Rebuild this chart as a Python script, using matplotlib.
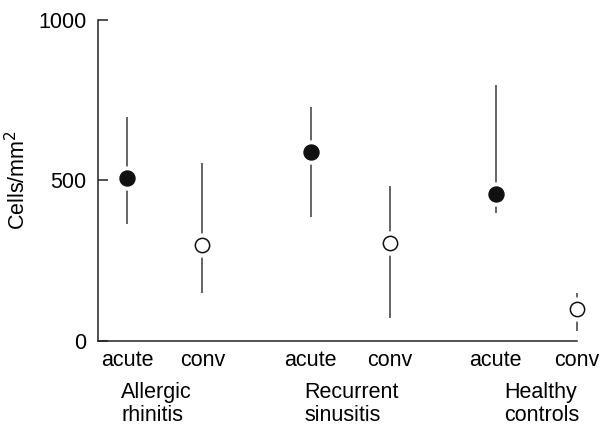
import matplotlib
matplotlib.use("Agg")
import matplotlib.pyplot as plt

plt.rcParams['font.family'] = ['Liberation Sans', 'DejaVu Sans']

conditions = ["acute", "conv", "acute", "conv", "acute", "conv"]
groups = ["Allergic\nrhinitis", "Recurrent\nsinusitis", "Healthy\ncontrols"]
means = [508, 298, 589, 304, 457, 98]
upper = [698, 555, 728, 483, 797, 150]
lower = [364, 150, 385, 70, 399, 30]
filled = [True, False, True, False, True, False]

xpos = [1, 1.98, 3.39, 4.42, 5.8, 6.855]
group_x = [0.924, 3.309, 5.915]

fig = plt.figure(figsize=(6.06, 4.28), dpi=100)
ax = fig.add_axes([0.161, 0.204, 0.7906, 0.749])

lc = '#3a3a3a'
for x, m, u, l, f in zip(xpos, means, upper, lower, filled):
    ax.vlines(x, l, u, color=lc, lw=1.1, clip_on=False, zorder=2)
    ax.plot([x], [m], 'o', ms=16.5, mfc='white', mec='white', clip_on=False, zorder=3)
    if f:
        ax.plot([x], [m], 'o', ms=10.8, mfc='#111111', mec='#111111', clip_on=False, zorder=4)
    else:
        ax.plot([x], [m], 'o', ms=10.3, mfc='white', mec='#111111', mew=1.1, clip_on=False, zorder=4)

ax.set_xlim(0.615, 6.757)
ax.set_ylim(0, 1000)
ax.spines['top'].set_visible(False)
ax.spines['right'].set_visible(False)
for s in ['left', 'bottom']:
    ax.spines[s].set_linewidth(1.1)
    ax.spines[s].set_color('#222222')

fs = 15.5
ax.set_yticks([0, 500, 1000])
ax.tick_params(axis='y', direction='in', length=7, width=1.1, pad=8, labelsize=fs, color='#222222')
ax.set_xticks(xpos)
ax.set_xticklabels(conditions)
ax.tick_params(axis='x', length=0, pad=7, labelsize=fs)
ax.set_ylabel("Cells/mm$^2$", fontsize=fs)
ax.yaxis.set_label_coords(-0.14, 0.5)

for gx, g in zip(group_x, groups):
    ax.text(gx, -0.129, g, transform=ax.get_xaxis_transform(), ha='left', va='top',
            fontsize=fs, linespacing=1.1)

fig.savefig("out.png", dpi=100)
